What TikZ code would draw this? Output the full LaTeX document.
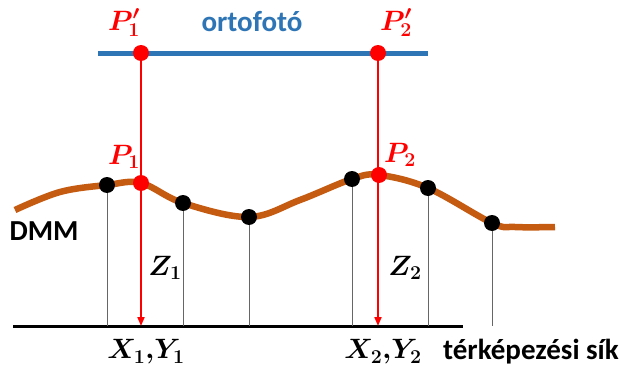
\RequirePackage{fix-cm}
\documentclass[tikz,border=0pt]{standalone}
\usepackage{fontspec}
\usepackage{amsmath,bm}
\setmainfont{Carlito}
\usetikzlibrary{arrows.meta}
\definecolor{ortoblue}{RGB}{46,117,182}
\definecolor{terrain}{RGB}{197,90,17}
\definecolor{pred}{RGB}{255,0,0}
\tikzset{
  lbl/.style={font=\fontsize{29}{32}\selectfont\bfseries, inner sep=0pt},
  mlbl/.style={font=\fontsize{28}{31}\selectfont, inner sep=0pt},
  bdot/.style={circle, fill=black, minimum size=16pt, inner sep=0pt},
  rdot/.style={circle, fill=pred, minimum size=16pt, inner sep=0pt},
  ray/.style={pred, line width=2pt, -{Triangle[width=7pt,length=9pt]}},
  drop/.style={gray!80!black, line width=0.8pt},
}
\begin{document}
\begin{tikzpicture}[x=1pt,y=-1pt]
\useasboundingbox (0,0) rectangle (625,367);
% terrain coordinates
\coordinate (t0) at (15,210);
\coordinate (t1) at (60,192);
\coordinate (d1) at (107,185);
\coordinate (r1) at (141,183);
\coordinate (d2) at (183,203);
\coordinate (d3) at (249,217);
\coordinate (t2) at (300,200);
\coordinate (d4) at (352,179);
\coordinate (r2) at (379,175);
\coordinate (d5) at (428,188);
\coordinate (d6) at (492,223);
\coordinate (t3) at (515,227);
\coordinate (t4) at (555,227);
% baseline
\coordinate (bl) at (13,326);
\coordinate (br) at (463,326);
\draw[line width=3pt] (bl) -- (br);
% drops
\foreach \n in {d1,d2,d3,d4,d5,d6}
  \draw[drop] (\n) -- (\n |- bl);
% ortofoto line
\coordinate (ol) at (98,53);
\coordinate (or) at (428,53);
\draw[ortoblue, line width=5pt] (ol) -- (or);
% terrain curve
\draw[terrain, line width=6.5pt, line join=round] plot[smooth, tension=0.6] coordinates {(t0) (t1) (d1) (r1) (d2) (d3) (t2) (d4) (r2) (d5) (d6) (t3) (t4)};
% rays
\coordinate (q1) at (141,53);
\coordinate (q2) at (378,53);
\draw[ray] (q1) -- (q1 |- bl);
\draw[ray] (q2) -- (q2 |- bl);
% dots
\foreach \n in {d1,d2,d3,d4,d5,d6}
  \node[bdot] (n\n) at (\n) {};
\node[rdot] (nr1) at (r1) {};
\node[rdot] (nr2) at (r2) {};
\node[rdot] (nq1) at (q1) {};
\node[rdot] (nq2) at (q2) {};
% labels
\node[lbl, ortoblue] (orto) at (252,22) {ortofotó};
\node[mlbl, pred] (pp1) at (124,23) {$\bm{P'_1}$};
\node[mlbl, pred] (pp2) at (396,23) {$\bm{P'_2}$};
\node[mlbl, pred] (p1) at (124,157) {$\bm{P_1}$};
\node[mlbl, pred] (p2) at (400,155) {$\bm{P_2}$};
\node[mlbl] (z1) at (165,268) {$\bm{Z_1}$};
\node[mlbl] (z2) at (405,268) {$\bm{Z_2}$};
\node[mlbl] (xy1) at (146,352) {$\bm{X_1{,}Y_1}$};
\node[mlbl] (xy2) at (383,352) {$\bm{X_2{,}Y_2}$};
\node[lbl] (dmm) at (44,231) {DMM};
\node[lbl] (sik) at (531,352) {térképezési sík};
\end{tikzpicture}
\end{document}
